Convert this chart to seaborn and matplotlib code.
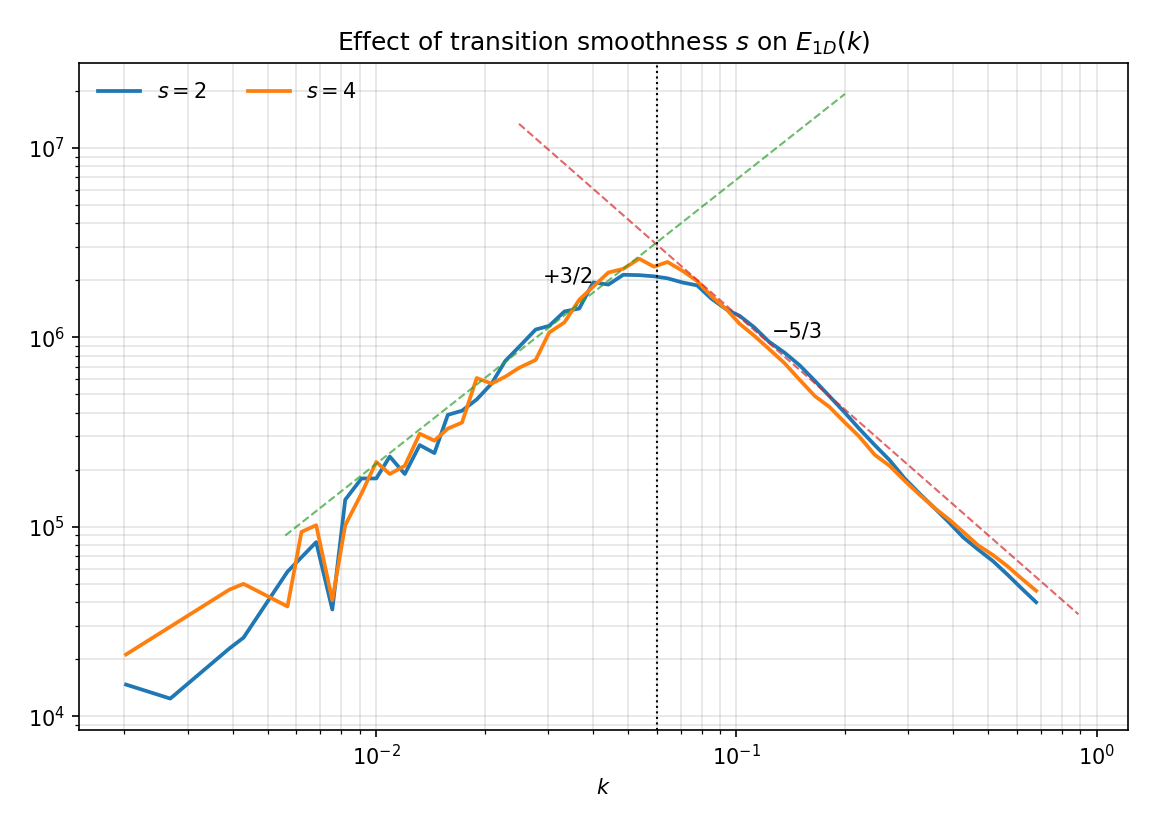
import matplotlib
matplotlib.use("Agg")
import matplotlib.pyplot as plt
import numpy as np
import pandas as pd
import seaborn as sns

k_s2 = [0.00202, 0.00268, 0.00391, 0.00428, 0.00567, 0.00681, 0.00755, 0.0082, 0.0091, 0.0100,
        0.0109, 0.0120, 0.0132, 0.0145, 0.0158, 0.0173, 0.0190, 0.0209, 0.0228, 0.0249,
        0.0277, 0.0302, 0.0333, 0.0366, 0.0400, 0.0441, 0.0485, 0.0537, 0.0590, 0.0643,
        0.0707, 0.0778, 0.0852, 0.094, 0.102, 0.112, 0.123, 0.136, 0.150, 0.165,
        0.181, 0.200, 0.219, 0.242, 0.266, 0.293, 0.322, 0.354, 0.390, 0.426,
        0.468, 0.515, 0.565, 0.621, 0.679]
e_s2 = [1.47e4, 1.24e4, 2.28e4, 2.6e4, 5.8e4, 8.3e4, 3.66e4, 1.39e5, 1.8e5, 1.8e5,
        2.35e5, 1.9e5, 2.7e5, 2.45e5, 3.9e5, 4.1e5, 4.7e5, 5.7e5, 7.5e5, 8.9e5,
        1.1e6, 1.15e6, 1.37e6, 1.42e6, 1.95e6, 1.9e6, 2.14e6, 2.13e6, 2.1e6, 2.05e6,
        1.95e6, 1.88e6, 1.6e6, 1.4e6, 1.3e6, 1.13e6, 9.5e5, 8.3e5, 7.1e5, 5.9e5,
        4.9e5, 4.0e5, 3.3e5, 2.7e5, 2.25e5, 1.8e5, 1.5e5, 1.26e5, 1.05e5, 8.8e4,
        7.6e4, 6.6e4, 5.6e4, 4.7e4, 4.0e4]

k_s4 = [0.00202, 0.00391, 0.00428, 0.00567, 0.0062, 0.00681, 0.00755, 0.0082, 0.0091, 0.0100,
        0.0109, 0.0120, 0.0132, 0.0145, 0.0158, 0.0173, 0.0190, 0.0209, 0.0228, 0.0249,
        0.0277, 0.0302, 0.0333, 0.0366, 0.0400, 0.0441, 0.0485, 0.0537, 0.0590, 0.0643,
        0.0707, 0.0778, 0.0852, 0.094, 0.102, 0.112, 0.123, 0.136, 0.150, 0.165,
        0.181, 0.200, 0.219, 0.242, 0.266, 0.293, 0.322, 0.354, 0.390, 0.426,
        0.468, 0.515, 0.565, 0.621, 0.679]
e_s4 = [2.12e4, 4.66e4, 5.0e4, 3.8e4, 9.4e4, 1.02e5, 4.1e4, 1.02e5, 1.5e5, 2.2e5,
        1.9e5, 2.1e5, 3.1e5, 2.85e5, 3.3e5, 3.55e5, 6.1e5, 5.7e5, 6.2e5, 6.9e5,
        7.6e5, 1.06e6, 1.2e6, 1.58e6, 1.85e6, 2.2e6, 2.3e6, 2.6e6, 2.36e6, 2.5e6,
        2.25e6, 1.98e6, 1.65e6, 1.4e6, 1.18e6, 1.02e6, 8.7e5, 7.3e5, 5.95e5, 4.9e5,
        4.3e5, 3.55e5, 3.0e5, 2.4e5, 2.1e5, 1.75e5, 1.48e5, 1.26e5, 1.09e5, 9.4e4,
        8.0e4, 7.1e4, 6.2e4, 5.3e4, 4.6e4]

# reference power laws: (k range, anchor k, anchor E, slope)
k_green = [0.00559, 0.2]
green_anchor = (0.00559, 9.0e4, 1.5)
k_red = [0.0249, 0.89]
red_anchor = (0.0249, 1.34e7, -5 / 3)
k_peak = 0.06

df = pd.concat([
    pd.DataFrame({"k": k_s2, "E": e_s2, "s": "$s=2$"}),
    pd.DataFrame({"k": k_s4, "E": e_s4, "s": "$s=4$"}),
])

fig, ax = plt.subplots(figsize=(7.68, 5.547), dpi=150)
sns.lineplot(data=df, x="k", y="E", hue="s", palette=["#1f77b4", "#ff7f0e"],
             lw=1.8, ax=ax, sort=False)

for ks, (k0, e0, p), col in [(k_green, green_anchor, "#2ca02c"), (k_red, red_anchor, "#d62728")]:
    kk = np.array(ks)
    ax.plot(kk, e0 * (kk / k0) ** p, ls="--", lw=1, color=col, alpha=0.7)

ax.axvline(k_peak, color="black", ls=":", lw=1)
ax.text(0.029, 1.95e6, "+3/2", fontsize=10)
ax.text(0.125, 1.0e6, "\u22125/3", fontsize=10)

ax.set_xscale("log")
ax.set_yscale("log")
ax.set_xlim(0.0015, 1.22)
ax.set_ylim(8.5e3, 2.8e7)
ax.grid(True, which="both", color="gray", alpha=0.2, lw=0.8)
ax.set_xlabel("$k$")
ax.set_ylabel("")
ax.set_title("Effect of transition smoothness $s$ on $E_{1D}(k)$")
ax.legend(loc="upper left", ncol=2, frameon=False, title=None)
fig.subplots_adjust(left=0.069, right=0.979, top=0.924, bottom=0.123)
fig.savefig("out.png", dpi=150)
